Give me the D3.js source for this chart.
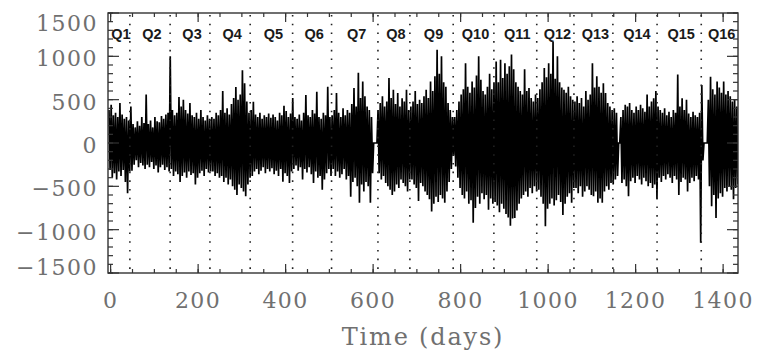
<!DOCTYPE html>
<html>
<head>
<meta charset="utf-8">
<script src="https://cdn.jsdelivr.net/npm/d3@7"></script>
<style>
  body { margin: 0; background: #fff; }
</style>
</head>
<body>
<div id="chart"></div>
<script>
const binStart = -5
const binDays = 5

const hiValues = [
  380, 440, 320, 350, 300, 460, 330, 280, 300, 260,                                          // Q1
  420, 220, 180, 250, 200, 300, 230, 560, 220, 260, 180, 300, 250, 240, 310, 280, 330, 350, // Q2
  1000, 380, 320, 350, 530, 420, 500, 380, 340, 460, 320, 300, 350, 280, 380, 300, 260, 320, 280, // Q3
  300, 280, 350, 320, 380, 600, 350, 400, 330, 450, 520, 645, 500, 560, 840, 690, 480, 350, // Q4
  380, 476, 330, 300, 350, 280, 320, 300, 340, 290, 330, 300, 260, 350, 320, 430, 370, 300, 340, // Q5
  520, 300, 280, 330, 260, 350, 555, 320, 300, 380, 340, 590, 300, 280, 350, 320, 650, 300, // Q6
  320, 380, 577, 350, 300, 400, 320, 380, 350, 450, 635, 420, 810, 520, 710, 540, 420, 380, 300, // Q7
  0, 0,                                                                                     // gap
  380, 460, 540, 420, 480, 750, 520, 615, 450, 577, 420, 515, 480, 615, 380,                // Q8
  420, 480, 600, 450, 500, 460, 540, 615, 520, 710, 600, 770, 1075, 800, 1000, 700, 650, 460, 380, 300, // Q9
  300, 380, 480, 560, 620, 920, 650, 580, 710, 640, 780, 1000, 730, 600, 560, 650, 800, 620, 700, // Q10
  940, 700, 960, 750, 920, 800, 885, 1020, 850, 700, 650, 600, 560, 850, 600, 635, 520, 480, 560, // Q11
  520, 620, 700, 865, 760, 920, 800, 1170, 740, 1000, 700, 640, 615, 580, 650, 540, 500,    // Q12
  480, 540, 460, 520, 420, 600, 500, 560, 920, 640, 770, 650, 580, 690, 577, 460, 420, 380, // Q13
  400, 350, 0, 300, 380, 440, 420, 460, 380, 350, 420, 380, 440, 400, 360, 560, 420, 480, 515, 600, // Q14
  420, 380, 350, 400, 320, 360, 300, 380, 350, 790, 420, 515, 380, 500, 340, 300, 360, 320, 300, 350, // Q15
  670, 0, 0,                                                                                // gap
  500, 765, 620, 560, 710, 640, 580, 710, 560, 600, 540, 480, 500, 420                      // Q16
]

const loValues = [
  -310, -400, -350, -420, -330, -380, -310, -450, -580, -330,
  -320, -250, -200, -280, -230, -260, -300, -250, -280, -220, -300, -260, -340, -280, -250, -310, -280, -330,
  -300, -380, -330, -360, -450, -380, -340, -400, -330, -370, -350, -480, -400, -350, -320, -380, -300, -340, -330,
  -330, -380, -350, -400, -380, -450, -400, -480, -420, -500, -540, -600, -480, -520, -560, -615, -480, -400,
  -380, -330, -300, -360, -320, -280, -350, -300, -330, -290, -360, -320, -380, -300, -446, -350, -380, -460, -330,
  -300, -260, -320, -280, -420, -300, -340, -280, -360, -460, -330, -400, -380, -540, -420, -350, -300, -380,
  -300, -380, -330, -400, -360, -300, -420, -380, -620, -450, -400, -500, -690, -480, -560, -450, -500, -690, -350,
  0, 0,
  -350, -420, -380, -460, -500, -540, -600, -560, -480, -520, -420, -460, -500, -560, -420,
  -420, -480, -520, -670, -460, -500, -560, -600, -650, -790, -700, -620, -680, -600, -640, -690, -560, -450, -300, -150,
  -270, -400, -520, -600, -640, -560, -700, -660, -920, -750, -620, -700, -580, -650, -600, -770, -640, -700, -680,
  -720, -800, -700, -760, -820, -860, -955, -870, -865, -780, -700, -640, -600, -560, -620, -520, -580, -500, -560,
  -540, -620, -700, -960, -760, -700, -640, -720, -660, -600, -680, -830, -700, -620, -580, -690, -520,
  -520, -580, -500, -620, -560, -500, -540, -600, -615, -560, -690, -640, -690, -560, -500, -540, -460, -480,
  -420, -380, 0, -460, -420, -500, -615, -440, -400, -460, -380, -420, -480, -400, -440, -500, -460, -520, -480, -650,
  -400, -450, -380, -420, -360, -400, -460, -380, -420, -600, -450, -400, -420, -560, -460, -400, -440, -380, -420, -1150,
  -200, 0, 0,
  -500, -730, -600, -865, -640, -580, -620, -520, -560, -500, -540, -650, -520, -480
]

// quarter boundaries (days) and names
const quarterEdges = [-6, 44, 136, 227, 319, 416, 505, 611, 684, 783, 876, 974, 1059, 1148, 1249, 1350, 1434]
const quarterNames = ["Q1","Q2","Q3","Q4","Q5","Q6","Q7","Q8","Q9","Q10","Q11","Q12","Q13","Q14","Q15","Q16"]

const xTicks = [0, 200, 400, 600, 800, 1000, 1200, 1400]
const yTicks = [-1500, -1000, -500, 0, 500, 1000, 1500]

const width = 759, height = 361
const plotLeft = 108, plotRight = 738, plotTop = 13, plotBottom = 273

const x = d3.scaleLinear().domain([-6, 1434]).range([plotLeft, plotRight])
const y = d3.scaleLinear().domain([-1500, 1500]).range([plotBottom, plotTop])

const svg = d3.select("#chart")
  .append("svg")
    .attr("width", width)
    .attr("height", height)

svg.append("defs").append("clipPath").attr("id", "plot")
  .append("rect").attr("x", plotLeft).attr("y", plotTop)
  .attr("width", plotRight - plotLeft).attr("height", plotBottom - plotTop)

// each bin gives two points: its max then its min
const points = []
hiValues.forEach((hi, i) => {
  const t0 = binStart + i * binDays
  points.push([t0 + binDays * 0.25, hi])
  points.push([t0 + binDays * 0.75, loValues[i]])
})

const line = d3.line().x(d => x(d[0])).y(d => y(d[1]))

svg.append("path")
  .datum(points)
  .attr("clip-path", "url(#plot)")
  .attr("d", line)
  .attr("fill", "none")
  .attr("stroke", "#000")
  .attr("stroke-width", 1.7)
  .attr("stroke-linejoin", "miter")

// dotted quarter separators
svg.selectAll(".qline")
  .data(quarterEdges.slice(1, -1))
  .join("line")
    .attr("x1", d => x(d)).attr("x2", d => x(d))
    .attr("y1", plotTop + 2).attr("y2", plotBottom)
    .attr("stroke", "#222")
    .attr("stroke-width", 1.6)
    .attr("stroke-dasharray", "1.6,7.1")

svg.selectAll(".qlabel")
  .data(quarterNames)
  .join("text")
    .attr("x", (d, i) => x((quarterEdges[i] + quarterEdges[i + 1]) / 2) + 2)
    .attr("y", 39)
    .attr("text-anchor", "middle")
    .style("font-family", "'Liberation Sans', Arial, sans-serif")
    .style("font-weight", "bold")
    .style("font-size", "14.5px")
    .attr("fill", "#1a1a1a")
    .text(d => d)

// ticks, all pointing inward, on the four sides
function yTickMarks(values, len) {
  svg.append("g").selectAll("line").data(values).join("line")
    .attr("x1", plotLeft).attr("x2", plotLeft + len)
    .attr("y1", d => y(d)).attr("y2", d => y(d))
    .attr("stroke", "#333").attr("stroke-width", 1.2)
  svg.append("g").selectAll("line").data(values).join("line")
    .attr("x1", plotRight).attr("x2", plotRight - len)
    .attr("y1", d => y(d)).attr("y2", d => y(d))
    .attr("stroke", "#333").attr("stroke-width", 1.2)
}
function xTickMarks(values, len) {
  svg.append("g").selectAll("line").data(values).join("line")
    .attr("x1", d => x(d)).attr("x2", d => x(d))
    .attr("y1", plotBottom).attr("y2", plotBottom - len)
    .attr("stroke", "#333").attr("stroke-width", 1.2)
  svg.append("g").selectAll("line").data(values).join("line")
    .attr("x1", d => x(d)).attr("x2", d => x(d))
    .attr("y1", plotTop).attr("y2", plotTop + len)
    .attr("stroke", "#333").attr("stroke-width", 1.2)
}
yTickMarks(d3.range(-1500, 1501, 100), 5)
yTickMarks(yTicks, 11)
xTickMarks(d3.range(0, 1401, 50), 4)
xTickMarks(xTicks, 9)

svg.append("rect")
  .attr("x", plotLeft).attr("y", plotTop)
  .attr("width", plotRight - plotLeft).attr("height", plotBottom - plotTop)
  .attr("fill", "none")
  .attr("stroke", "#333")
  .attr("stroke-width", 1.4)

// tick labels
const labelFont = "'DejaVu Serif', serif"
svg.selectAll(".ylab")
  .data(yTicks)
  .join("text")
    .attr("x", 98)
    .attr("y", d => Math.min(Math.max(y(d), 21), 265) + 2)
    .attr("dy", "0.36em")
    .attr("text-anchor", "end")
    .style("font-family", labelFont)
    .style("font-size", "22px")
    .style("letter-spacing", "1.5px")
    .attr("fill", "#707070")
    .text(d => d < 0 ? "\u2212" + Math.abs(d) : d)

svg.selectAll(".xlab")
  .data(xTicks)
  .join("text")
    .attr("x", d => x(d))
    .attr("y", 308)
    .attr("text-anchor", "middle")
    .style("font-family", labelFont)
    .style("font-size", "22px")
    .style("letter-spacing", "1.5px")
    .attr("fill", "#707070")
    .text(d => d)

svg.append("text")
  .attr("x", (plotLeft + plotRight) / 2)
  .attr("y", 345)
  .attr("text-anchor", "middle")
  .style("font-family", labelFont)
  .style("font-size", "24px")
  .style("letter-spacing", "1.8px")
  .attr("fill", "#707070")
  .text("Time (days)")
</script>
</body>
</html>
